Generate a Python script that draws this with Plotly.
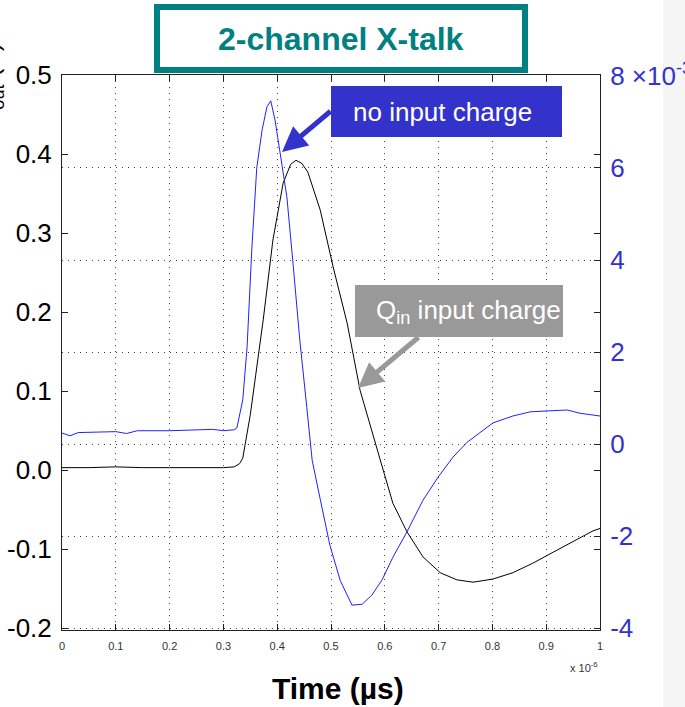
import plotly.graph_objects as go

# ---------------- data ----------------
# time axis in units of 1e-6 s (tick labels 0..1, "x 10^-6")
t_qin = [0.0, 0.05, 0.10, 0.15, 0.20, 0.25, 0.30, 0.32, 0.33, 0.336, 0.35, 0.36, 0.374,
         0.392, 0.411, 0.425, 0.435, 0.446, 0.457, 0.48, 0.504, 0.53, 0.554, 0.591,
         0.615, 0.641, 0.671, 0.703, 0.734, 0.764, 0.801, 0.838, 0.875, 0.913, 0.95,
         0.987, 1.0]
v_qin = [0.003, 0.003, 0.004, 0.003, 0.003, 0.003, 0.003, 0.004, 0.008, 0.015, 0.07, 0.12, 0.19,
         0.291, 0.363, 0.387, 0.392, 0.388, 0.377, 0.329, 0.257, 0.186, 0.101, 0.014,
         -0.042, -0.078, -0.110, -0.130, -0.139, -0.142, -0.138, -0.130, -0.118, -0.104, -0.091,
         -0.077, -0.074]

t_noq = [0.0, 0.015, 0.03, 0.08, 0.10, 0.12, 0.14, 0.20, 0.25, 0.28, 0.30, 0.32, 0.325,
         0.336, 0.344, 0.353, 0.362, 0.372, 0.381, 0.388, 0.396, 0.405, 0.418, 0.43,
         0.442, 0.455, 0.465, 0.48, 0.498, 0.517, 0.539, 0.558, 0.576, 0.595, 0.615,
         0.641, 0.671, 0.699, 0.727, 0.753, 0.777, 0.801, 0.838, 0.87, 0.901, 0.939,
         0.963, 0.987, 1.0]
b_noq = [0.24, 0.18, 0.25, 0.26, 0.27, 0.23, 0.29, 0.29, 0.30, 0.32, 0.29, 0.31, 0.35,
         0.96, 2.1, 4.28, 6.0, 6.83, 7.33, 7.46, 7.04, 6.39, 5.37, 3.85,
         2.26, 0.8, -0.35, -1.2, -2.2, -2.96, -3.5, -3.48, -3.28, -2.95, -2.46,
         -1.91, -1.22, -0.72, -0.28, 0.04, 0.26, 0.46, 0.61, 0.70, 0.72, 0.74,
         0.67, 0.63, 0.61]

x_ticks = [0, 0.1, 0.2, 0.3, 0.4, 0.5, 0.6, 0.7, 0.8, 0.9, 1]
x_ticktext = ["0", "0.1", "0.2", "0.3", "0.4", "0.5", "0.6", "0.7", "0.8", "0.9", "1"]
left_ticks = [0.5, 0.4, 0.3, 0.2, 0.1, 0.0, -0.1, -0.2]
left_ticktext = ["0.5", "0.4", "0.3", "0.2", "0.1", "0.0", "-0.1", "-0.2"]
right_ticks = [8, 6, 4, 2, 0, -2, -4]
right_ticktext = ["8 ×10<sup>-3</sup>", "6", "4", "2", "0", "-2", "-4"]

# ---------------- layout geometry (pixels) ----------------
W, H = 685, 707
L, R, T, B = 62, 600, 75, 630


def px(x):
    return (x - L) / (R - L)


def py(y):
    return (B - y) / (B - T)


FONT = "Liberation Sans, Arial, Helvetica, sans-serif"
BLUE_BOX = "#3333CC"
GREY_BOX = "#999999"
TEAL = "#008080"

fig = go.Figure()
fig.add_trace(go.Scatter(x=t_qin, y=v_qin, mode="lines", yaxis="y",
                         line=dict(color="#000000", width=1), showlegend=False))
fig.add_trace(go.Scatter(x=t_noq, y=b_noq, mode="lines", yaxis="y2",
                         line=dict(color="#2020FF", width=1), showlegend=False))

fig.update_layout(
    width=W, height=H,
    margin=dict(l=L, r=W - R, t=T, b=H - B, pad=0, autoexpand=False),
    paper_bgcolor="white", plot_bgcolor="white",
    font=dict(family=FONT, color="#000"),
    xaxis=dict(range=[0, 1], tickvals=x_ticks, ticktext=x_ticktext, automargin=False,
               tickfont=dict(size=11, color="#333"), ticks="inside", ticklen=6,
               tickcolor="#222", showline=True, linecolor="#222", linewidth=1,
               mirror="ticks", showgrid=True, gridcolor="#444", griddash="1px,5px",
               gridwidth=1, zeroline=False, fixedrange=True, ticklabelstandoff=6),
    yaxis=dict(range=[-0.2025, 0.5], tickvals=left_ticks, ticktext=left_ticktext,
               automargin=False,
               tickfont=dict(size=26, color="#000"), ticks="inside", ticklen=6,
               tickcolor="#222", showline=True, linecolor="#222", linewidth=1,
               mirror="ticks", showgrid=False, zeroline=False, ticklabelstandoff=4),
    yaxis2=dict(range=[-4.04, 8.02], overlaying="y", side="right", automargin=False,
                tickvals=right_ticks, ticktext=right_ticktext,
                tickfont=dict(size=26, color=BLUE_BOX), ticks="inside", ticklen=6,
                tickcolor="#222", showline=True, linecolor="#222", linewidth=1,
                showgrid=True, gridcolor="#444", griddash="1px,5px", gridwidth=1,
                zeroline=False, ticklabelstandoff=4),
)

shapes = [
    # faint slide band on the right edge
    dict(type="rect", xref="paper", yref="paper", x0=px(663), x1=px(690), y0=py(-5), y1=py(712),
         fillcolor="#f5f5f5", line=dict(width=0), layer="below"),
    # title box
    dict(type="rect", xref="paper", yref="paper", x0=px(157), x1=px(525), y0=py(70), y1=py(7),
         fillcolor="white", line=dict(color=TEAL, width=6), layer="above"),
    # no input charge box
    dict(type="rect", xref="paper", yref="paper", x0=px(331), x1=px(562), y0=py(137), y1=py(86),
         fillcolor=BLUE_BOX, line=dict(width=0), layer="above"),
    # Qin box
    dict(type="rect", xref="paper", yref="paper", x0=px(355), x1=px(563), y0=py(337), y1=py(285),
         fillcolor=GREY_BOX, line=dict(width=0), layer="above"),
]


def arrow(tip, tail, color):
    return dict(xref="paper", yref="paper", x=px(tip[0]), y=py(tip[1]),
                ax=tail[0] - tip[0], ay=tail[1] - tip[1], text="", showarrow=True,
                arrowhead=2, arrowsize=1, arrowwidth=5, arrowcolor=color)


annotations = [
    dict(xref="paper", yref="paper", x=px(341), y=py(39), text="<b>2-channel X-talk</b>",
         showarrow=False, font=dict(size=32, color=TEAL, family=FONT),
         xanchor="center", yanchor="middle"),
    dict(xref="paper", yref="paper", x=px(442), y=py(112), text="no input charge",
         showarrow=False, font=dict(size=26, color="white", family=FONT),
         xanchor="center", yanchor="middle"),
    dict(xref="paper", yref="paper", x=px(468), y=py(311), text="Q<sub>in</sub> input charge",
         showarrow=False, font=dict(size=26, color="white", family=FONT),
         xanchor="center", yanchor="middle"),
    arrow((282, 152), (332, 110), BLUE_BOX),
    arrow((358, 388), (420, 336), GREY_BOX),
    # axis titles
    dict(xref="paper", yref="paper", x=px(338), y=py(688), text="<b>Time (µs)</b>",
         showarrow=False, font=dict(size=30, color="#000", family=FONT),
         xanchor="center", yanchor="middle"),
    dict(xref="paper", yref="paper", x=px(584), y=py(667), text="x 10<sup>-6</sup>",
         showarrow=False, font=dict(size=11, color="#333", family=FONT),
         xanchor="center", yanchor="middle"),
    dict(xref="paper", yref="paper", x=px(-9), y=py(85), text="V<sub>out</sub> (V)",
         showarrow=False, textangle=-90, font=dict(size=26, color="#000", family=FONT),
         xanchor="center", yanchor="middle"),
]

fig.update_layout(shapes=shapes, annotations=annotations)
fig.write_html("out.html")
